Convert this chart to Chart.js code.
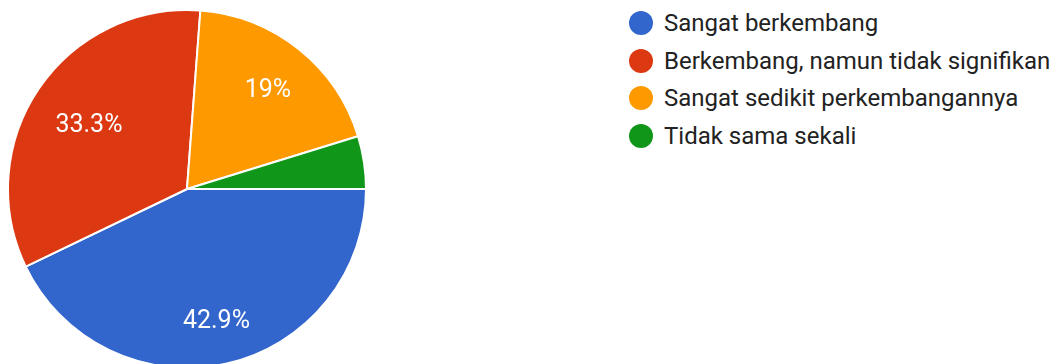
<!DOCTYPE html>
<html>
<head>
<meta charset="utf-8">
<script src="https://cdn.jsdelivr.net/npm/chart.js@4"></script>
<style>
    html, body { margin: 0; padding: 0; background: #fff; overflow: hidden; }
    body { width: 1059px; height: 364px; position: relative; font-family: Roboto, Arial, sans-serif; }
    #pieBox { position: absolute; left: 7px; top: 9px; width: 360px; height: 360px; }
    #legend { position: absolute; left: 629px; top: 4px; list-style: none; margin: 0; padding: 0; }
    #legend li { display: flex; align-items: center; height: 37.8px; font-size: 24px; color: #222; white-space: nowrap; }
    #legend .dot { width: 24px; height: 24px; border-radius: 50%; margin-right: 11px; flex: none; }
</style>
</head>
<body>
<div id="pieBox"><canvas id="pieChart"></canvas></div>
<ul id="legend"></ul>
<script>
const answers = ["Sangat berkembang", "Berkembang, namun tidak signifikan", "Sangat sedikit perkembangannya", "Tidak sama sekali"];
const responses = [9, 7, 4, 1];
const sliceColors = ["#3366cc", "#dc3912", "#ff9900", "#109618"];

const total = responses.reduce((a, b) => a + b, 0);

// percentage text inside each slice; the outer corner of the text box
// sits on a fixed circle, tiny slices get no label
const sliceLabels = {
    id: "sliceLabels",
    afterDatasetsDraw(chart) {
        const ctx = chart.ctx;
        const arcs = chart.getDatasetMeta(0).data;
        ctx.save();
        ctx.fillStyle = "#fff";
        ctx.font = "25px Roboto, Arial, sans-serif";
        ctx.textAlign = "center";
        ctx.textBaseline = "alphabetic";
        arcs.forEach((arc, i) => {
            const pct = responses[i] / total * 100;
            if (pct < 5) return;
            const text = (Math.round(pct * 10) / 10) + "%";
            const m = ctx.measureText(text);
            const hw = m.width / 2;
            const hh = m.actualBoundingBoxAscent / 2;
            const mid = (arc.startAngle + arc.endAngle) / 2;
            const c = Math.cos(mid), s = Math.sin(mid);
            const a = Math.sign(c) * hw, b = Math.sign(s) * hh;
            const D = arc.outerRadius * 0.85;
            const p = c * a + s * b;
            const r = -p + Math.sqrt(p * p - (a * a + b * b - D * D));
            ctx.fillText(text, arc.x + c * r, arc.y + s * r + hh);
        });
        ctx.restore();
    }
};

new Chart(document.getElementById("pieChart"), {
    type: "pie",
    data: {
        labels: answers,
        datasets: [{
            data: responses,
            backgroundColor: sliceColors,
            borderColor: "#fff",
            borderWidth: 2
        }]
    },
    options: {
        responsive: true,
        maintainAspectRatio: false,
        animation: false,
        rotation: 90,
        layout: { padding: 0 },
        plugins: { legend: { display: false }, tooltip: { enabled: false } }
    },
    plugins: [sliceLabels]
});

const legend = document.getElementById("legend");
answers.forEach((name, i) => {
    const li = document.createElement("li");
    li.innerHTML = `<span class="dot" style="background:${sliceColors[i]}"></span>${name}`;
    legend.appendChild(li);
});
</script>
</body>
</html>
